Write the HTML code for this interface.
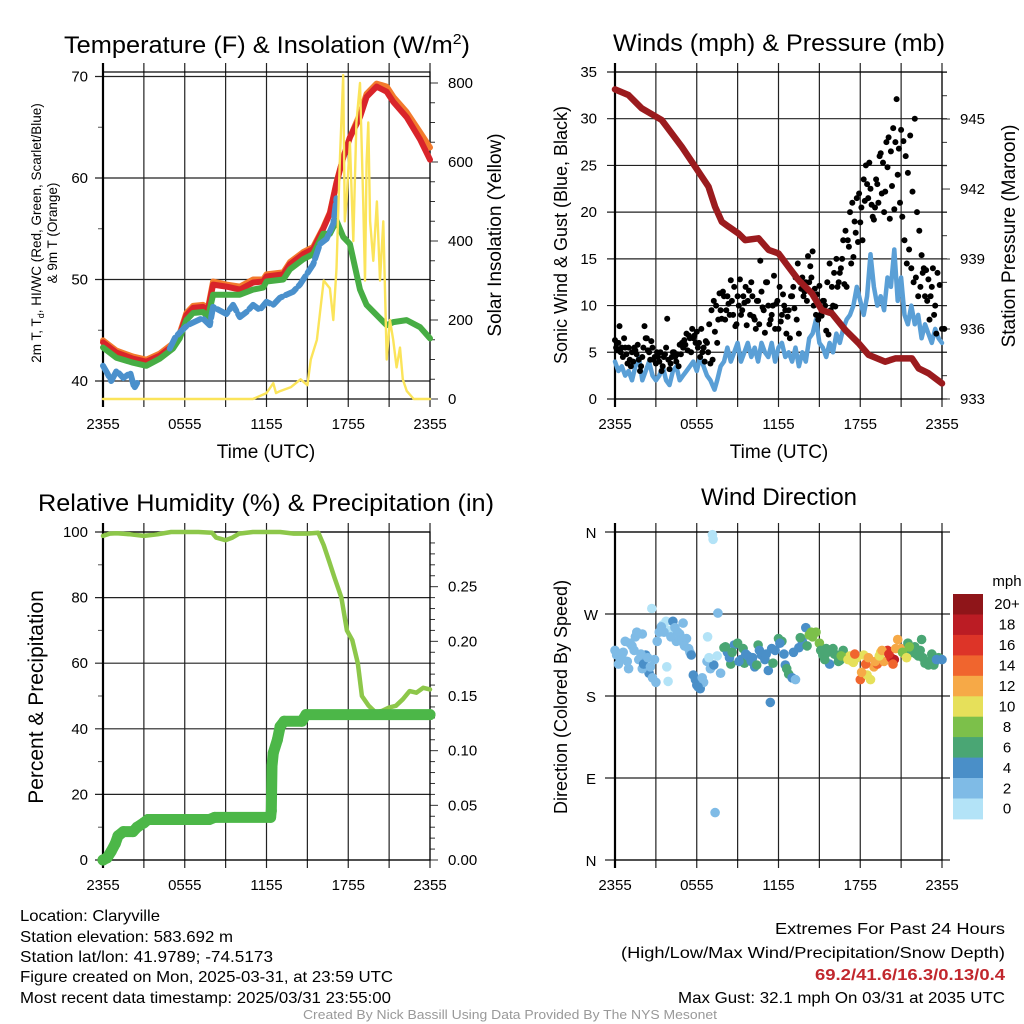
<!DOCTYPE html>
<html><head><meta charset="utf-8"><title>Claryville Meteogram</title>
<style>
html,body{margin:0;padding:0;background:#fff;}
svg{display:block;font-family:"Liberation Sans",Arial,sans-serif;}
</style></head>
<body>
<svg id="chart" width="1024" height="1024" viewBox="0 0 1024 1024" xmlns="http://www.w3.org/2000/svg">
<rect x="0" y="0" width="1024" height="1024" fill="#fff"/>
<!-- titles -->
<text x="267" y="53" font-size="24" text-anchor="middle" textLength="406" lengthAdjust="spacingAndGlyphs">Temperature (F) &amp; Insolation (W/m<tspan font-size="15" dy="-9">2</tspan><tspan dy="9">)</tspan></text>
<text x="779" y="51" font-size="24" text-anchor="middle" textLength="332" lengthAdjust="spacingAndGlyphs">Winds (mph) &amp; Pressure (mb)</text>
<text x="266" y="511" font-size="24" text-anchor="middle" textLength="456" lengthAdjust="spacingAndGlyphs">Relative Humidity (%) &amp; Precipitation (in)</text>
<text x="779" y="505" font-size="24" text-anchor="middle">Wind Direction</text>
<!-- axis titles -->
<text x="266" y="458" font-size="19" text-anchor="middle">Time (UTC)</text>
<text x="779" y="458" font-size="19" text-anchor="middle">Time (UTC)</text>
<text font-size="13.5" text-anchor="middle" transform="translate(41,233) rotate(-90)">2m T, T<tspan font-size="9" dy="3">d</tspan><tspan dy="-3">, HI/WC (Red, Green, Scarlet/Blue)</tspan></text>
<text font-size="13.5" text-anchor="middle" transform="translate(57,233) rotate(-90)">&amp; 9m T (Orange)</text>
<text font-size="19" text-anchor="middle" transform="translate(501,235) rotate(-90)">Solar Insolation (Yellow)</text>
<text font-size="18" text-anchor="middle" transform="translate(567,235) rotate(-90)">Sonic Wind &amp; Gust (Blue, Black)</text>
<text font-size="19" text-anchor="middle" transform="translate(1015,236) rotate(-90)">Station Pressure (Maroon)</text>
<text font-size="21" text-anchor="middle" transform="translate(43,697) rotate(-90)">Percent &amp; Precipitation</text>
<text font-size="18" text-anchor="middle" transform="translate(567,697) rotate(-90)">Direction (Colored By Speed)</text>
<!-- footer -->
<g font-size="16">
<text x="20" y="921" textLength="140" lengthAdjust="spacingAndGlyphs">Location: Claryville</text>
<text x="20" y="942" textLength="213" lengthAdjust="spacingAndGlyphs">Station elevation: 583.692 m</text>
<text x="20" y="962" textLength="253" lengthAdjust="spacingAndGlyphs">Station lat/lon: 41.9789; -74.5173</text>
<text x="20" y="982" textLength="373" lengthAdjust="spacingAndGlyphs">Figure created on Mon, 2025-03-31, at 23:59 UTC</text>
<text x="20" y="1003" textLength="371" lengthAdjust="spacingAndGlyphs">Most recent data timestamp: 2025/03/31 23:55:00</text>
</g>
<g font-size="16" text-anchor="end">
<text x="1005" y="934" textLength="230" lengthAdjust="spacingAndGlyphs">Extremes For Past 24 Hours</text>
<text x="1005" y="958" textLength="384" lengthAdjust="spacingAndGlyphs">(High/Low/Max Wind/Precipitation/Snow Depth)</text>
<text x="1005" y="980" fill="#c1272d" font-weight="bold" textLength="190" lengthAdjust="spacingAndGlyphs">69.2/41.6/16.3/0.13/0.4</text>
<text x="1005" y="1003" textLength="327" lengthAdjust="spacingAndGlyphs">Max Gust: 32.1 mph On 03/31 at 2035 UTC</text>
</g>
<text x="510" y="1019" font-size="12.5" fill="#999" text-anchor="middle" textLength="414" lengthAdjust="spacingAndGlyphs">Created By Nick Bassill Using Data Provided By The NYS Mesonet</text>
</svg>
<script>
// ---------- DATA ----------
const xTickLabels = ["2355","0555","1155","1755","2355"];
// Panel 1: temperature (F) & insolation
const tempHours = [0,0.98,2.2,3.18,4.16,5.14,5.63,6.12,6.61,7.35,7.71,8.08,9.06,10.04,11.02,11.76,12.0,13.23,13.72,14.69,15.43,16.16,16.65,17.14,17.63,18.12,18.86,19.35,20.08,20.82,21.31,22.28,23.27,24];
const tempRed = [43.8,42.8,42.2,41.9,42.5,43.5,44.5,46.5,47.2,47.3,47.0,49.5,49.3,49.0,49.7,49.8,50.3,50.5,51.5,52.5,53.0,55.0,56.5,59.5,62.0,64.0,66.0,68.0,69.0,68.5,67.5,66.0,63.8,61.8];
const temp9mOrange = [44.0,43.0,42.4,42.1,42.7,43.7,44.7,46.7,47.4,47.5,47.2,49.8,49.5,49.3,50.0,50.0,50.5,50.7,51.7,52.7,53.2,55.1,56.6,59.6,62.0,64.0,66.3,68.3,69.3,69.0,68.0,66.5,64.5,63.0];
const tempGreen = [43.3,42.3,41.8,41.5,42.2,43.2,44.2,46.0,46.7,46.8,46.3,48.5,48.5,48.5,49.0,49.2,49.8,50.0,51.0,52.0,52.5,54.5,54.5,55.8,54.2,53.5,49.0,47.5,46.5,45.5,45.8,46.0,45.3,44.2];
const dewHours = [0,0.3,0.6,1.0,1.5,2.0,2.3,2.5,null,4.9,5.3,5.8,6.2,7.3,7.84,8.08,9.06,9.55,10.04,10.53,11.02,11.51,12.0,12.49,12.98,13.47,13.96,14.45,14.94,15.43,15.92,16.41,16.9,17.14];
const dewBlue = [41.5,40.8,40.0,41.0,40.3,40.8,39.3,39.8,null,43.2,44.3,45.0,45.5,46.2,45.5,47.3,46.6,47.5,46.3,46.8,47.5,47.0,47.8,47.5,48.2,48.5,48.8,49.5,50.5,51.5,53.5,54.0,55.5,58.0];
const solarHours = [0,11.0,12.0,12.5,12.7,13.0,13.8,14.5,15.0,15.25,15.7,16.2,16.65,16.9,17.14,17.38,17.63,17.75,17.87,18.12,18.37,18.6,18.86,19.1,19.23,19.35,19.47,19.6,19.84,20.1,20.33,20.57,20.82,21.06,21.3,21.55,21.8,22.0,22.3,22.8,24];
const solarWm2 = [0,0,15,40,15,20,30,50,35,100,150,300,280,200,330,600,820,450,500,650,400,700,800,500,300,600,700,450,350,500,300,450,100,200,150,80,130,50,20,0,0];
// Panel 2: winds & pressure
const windHours = [0,0.25,0.5,0.75,1,1.25,1.5,1.75,2,2.25,2.5,2.75,3,3.25,3.5,3.75,4,4.25,4.5,4.75,5,5.25,5.5,5.75,6,6.25,6.5,6.75,7,7.15,7.3,7.5,7.75,8,8.25,8.5,8.75,9,9.25,9.5,9.75,10,10.25,10.5,10.75,11,11.25,11.5,11.75,12,12.25,12.5,12.75,13,13.25,13.5,13.75,14,14.25,14.5,14.75,15,15.25,15.5,15.75,16,16.25,16.5,16.75,17,17.25,17.5,17.75,18,18.25,18.5,18.75,19,19.25,19.5,19.75,20,20.25,20.5,20.75,21,21.25,21.5,21.75,22,22.25,22.5,22.75,23,23.25,23.5,23.75,24];
const windMph = [4,3,3.5,2.5,3,2,3.5,4.5,2,3,4,2.5,2,2.5,3.5,2,1.5,3,3.5,2,2.5,3,3.5,4,3,4.5,3.5,2.5,2,1.5,1,2,3.5,4,5.5,4,5,6,4,5,6,4.5,5.5,4,6,5,4.5,6,4,5.5,6,4.5,5,4,5.5,3.5,5,4,6.5,7,8.5,6,5.5,4.5,6,5,7,6,7.5,8.5,9,10,12,10.5,9,11,15.5,12,10,11,9.5,13,12,16,10.5,13,9,8,10,8,9,6.5,8,7,6,7.5,6.5,6];
const gustMph = [6.3,5.2,7.8,5.5,6.5,4.8,5.5,3.5,4.0,5.2,5.8,3.0,4.5,7.8,6.5,5.0,6.2,4.2,3.8,4.5,5.0,3.5,4.8,8.6,3.2,4.5,5.0,4.0,3.5,4.8,5.5,5.8,5.2,6.5,7.5,6.8,7.2,6.0,7.5,5.5,6.2,5.0,3.8,4.2,7.2,6.0,11.3,8.6,11.0,9.5,10.2,12.7,9.0,7.8,11.0,12.8,9.5,10.3,7.9,11.6,12.5,8.8,7.5,10.5,14.8,9.8,7.1,12.5,8.0,9.0,13.2,10.2,7.5,8.3,11.2,9.5,8.8,6.5,11.0,9.7,8.5,7.0,11.8,11.0,12.5,15.3,14.2,15.8,11.8,11.2,12.1,8.9,10.5,7.3,6.9,9.5,10.0,9.9,12.0,13.5,15.0,12.3,12.0,16.3,14.5,15.2,17.8,16.8,18.9,17.0,21.2,23.0,25.3,20.8,19.2,23.5,21.0,26.3,25.3,22.2,24.8,19.3,22.8,20.3,32.1,26.8,28.8,27.6,26.0,24.2,28.2,22.2,30.0,20.0,18.0,15.4,14.0,13.8,12.8,11.0,14.0,10.0,13.5,12.2,7.5,7.5];
const gust2Mph = [5.5,6.0,5.0,4.5,5.5,3.8,4.2,5.0,5.5,4.8,4.2,3.5,5.5,6.5,5.2,4.2,5.5,4.5,5.0,4.0,3.0,4.5,5.5,4.2,3.8,5.0,4.5,4.8,5.8,6.0,6.3,7.0,6.8,5.0,6.5,6.0,5.5,4.5,5.0,4.0,6.0,8.0,9.5,10.5,10.0,8.5,9.5,11.5,8.5,11.0,9.0,10.5,12.0,8.0,10.0,9.0,11.0,12.0,10.5,9.0,11.0,8.5,10.5,8.0,11.5,9.5,12.5,10.0,8.5,10.0,7.5,10.5,12.0,9.0,10.0,7.0,9.5,11.0,12.0,13.0,14.5,12.5,13.0,11.5,10.5,12.5,13.0,10.0,9.0,8.5,9.0,10.5,10.0,12.5,14.5,12.0,13.5,15.0,12.5,14.0,17.0,18.0,17.0,20.0,21.0,19.0,21.5,22.0,20.5,23.5,25.0,21.5,22.5,19.5,20.5,23.0,26.0,22.0,20.0,27.5,28.0,26.5,29.0,27.5,24.0,21.0,19.5,17.0,14.5,16.0,14.0,12.5,13.0,11.0,12.0,13.5,11.0,10.5,8.5,12.0,9.0,7.0];
const pressHours = [0,0.98,1.96,3.43,4.16,4.9,5.88,6.86,7.35,7.84,8.33,9.06,9.55,10.53,11.27,12.0,12.73,13.47,14.45,15.18,15.92,16.9,17.88,18.61,19.84,20.57,21.8,22.29,23.02,24];
const pressMb = [946.27,946.03,945.46,944.96,944.39,943.81,942.96,942.1,941.24,940.6,940.39,940.1,939.81,939.89,939.39,939.24,938.67,938.1,937.53,936.81,936.67,935.96,935.39,934.89,934.6,934.74,934.74,934.31,934.1,933.67];
// Panel 3: RH & precip
const rhHours = [0,0.5,1,2,3,4,5,6,7,8,8.3,9,9.5,10,11,12,13,14,15,15.8,16.2,16.6,17,17.5,17.9,18.3,18.7,19.0,19.5,20,20.5,21,21.5,22,22.5,23,23.5,24];
const rhPct = [98.8,99.5,99.6,99.3,98.8,99.3,100,100,100,99.8,98.3,97.5,98.3,99.5,100,100,100,99.5,99.5,99.8,96,91,86,80,70,67,60,50,47,45,45.5,46.5,47,49,51.5,51,52.5,52];
const precipHours = [0,0.3,0.6,0.9,1.1,1.5,2.2,2.5,3.0,3.3,7.8,8.2,12.3,12.35,12.4,12.5,12.8,13.0,13.3,14.6,14.9,24];
const precipIn = [0,0.002,0.008,0.015,0.022,0.026,0.026,0.03,0.034,0.037,0.037,0.039,0.039,0.045,0.086,0.098,0.11,0.122,0.127,0.127,0.133,0.133];
// Panel 4: wind direction
const dirHours = [0,0.25,0.5,0.75,1,1.25,1.5,1.75,2,2.25,2.5,2.75,3,3.25,3.5,3.75,4,4.25,4.5,4.75,5,5.25,5.5,5.75,6,6.25,6.5,6.75,7,7.25,7.5,7.75,8,8.25,8.5,8.75,9,9.25,9.5,9.75,10,10.25,10.5,10.75,11,11.25,11.5,11.75,12,12.25,12.5,12.75,13,13.25,13.5,13.75,14,14.25,14.5,14.75,15,15.25,15.5,15.75,16,16.25,16.5,16.75,17,17.25,17.5,17.75,18,18.25,18.5,18.75,19,19.25,19.5,19.75,20,20.25,20.5,20.75,21,21.25,21.5,21.75,22,22.25,22.5,22.75,23,23.25,23.5,23.75,24,7.15,7.2,7.35,7.55,6.8,6.9,2.7,3.8,3.9,11.4,2.0,
  0.12,0.4,0.6,0.9,1.1,1.4,1.6,1.9,2.1,2.4,2.6,2.9,3.1,3.4,3.6,4.1,4.4,4.6,4.9,5.1,5.4,5.6,5.9,6.1,6.4,8.1,8.4,8.6,9.1,9.4,9.6,10.1,10.4,10.6,11.1,11.6,12.1,12.4,12.6,13.1,13.6,14.1,14.4,15.1,15.4,15.6,16.1,16.4,16.6,17.1,17.4,17.6,18.1,18.4,18.6,19.1,19.4,19.6,20.1,20.4,20.6,21.1,21.4,21.6,22.1,22.4,22.6,23.1,23.4,23.6];
const dirDeg = [230,215,222,240,210,235,245,220,248,225,205,200,195,250,258,262,252,262,240,248,260,243,228,203,192,188,195,218,210,214,224,205,233,228,215,236,238,220,216,224,218,212,236,225,220,208,232,230,243,240,214,204,200,198,233,240,255,247,245,250,238,225,232,215,232,225,219,230,222,224,217,222,198,225,203,198,212,215,228,218,230,222,220,242,232,226,238,228,234,224,242,216,214,226,218,222,220,357,352,52,271,245,222,276,212,196,173,210,
  225,220,228,218,238,230,250,226,215,222,212,220,240,256,250,245,255,250,240,235,232,225,198,190,200,234,222,228,218,232,226,222,214,230,226,216,238,226,210,228,244,235,250,230,220,228,226,218,224,220,218,226,206,215,222,218,224,230,226,215,232,228,222,234,226,230,222,218,214,220];
const dirSpeed = [2,3,3,2,2,2,3,2,3,4,4,2,2,2,1.5,1.5,1,4,2,2,2,2,3,4,4,4,3,2,2,4,1.5,2,6,4,6,5,6,5,6,4,4,5,6,4,4,5,5,4,7,7,5,6,4,3,4,4,4,8,8,8,8,6,6,5,6,6,7,7,8,10,10,10,14,10,10,11,13,14,10,12,17,16,18,12,13,12,7,7,7,6,7,6,6,6,5,6,4,0,0.5,2,3.5,1,0.5,0.5,0.5,0.5,4,3,
  2,3,2,2,3,2,3,2,4,2,3,2,2,3,2,2,3,2,2,3,2,4,4,5,3,6,5,6,4,6,5,4,6,5,4,6,5,4,6,5,7,6,8,7,6,7,6,7,9,10,11,14,12,15,13,13,11,12,17,15,13,9,10,8,7,6,7,6,6,5];
const speedBinLabels = ["0","2","4","6","8","10","12","14","16","18","20+"];
const speedBinColors = ["#b3e3f7","#7fbbe6","#4a8fc8","#4aa674","#7cc04a","#e6e05a","#f6a947","#f0652e","#dd3428","#bb1c24","#8f1519"];

// ---------- HELPERS ----------
const svg = document.getElementById('chart');
const NS = 'http://www.w3.org/2000/svg';
function mk(tag, attrs, name, parent) {
  const el = document.createElementNS(NS, tag);
  for (const k in attrs) el.setAttribute(k, attrs[k]);
  
  
  (parent || svg).appendChild(el);
  return el;
}
function ln(x1,y1,x2,y2,name,w,c,g){ return mk('line',{x1:x1,y1:y1,x2:x2,y2:y2,stroke:c||'#000','stroke-width':w||1},name,g); }
function tx(x,y,s,name,anchor,size,g){ const t = mk('text',{x:x,y:y,'font-size':size||14,'text-anchor':anchor||'middle'},name,g); t.textContent = s; return t; }
function ok(v){ return typeof v === 'number' && isFinite(v); }
function poly(xs, ys, name, color, w, g, extra){
  let segs=[], cur=[];
  const n = Math.min(xs.length, ys.length);
  for(let i=0;i<n;i++){
    if(!ok(xs[i])||!ok(ys[i])){ if(cur.length) segs.push(cur); cur=[]; continue; }
    cur.push(xs[i].toFixed(1)+','+ys[i].toFixed(1));
  }
  if(cur.length) segs.push(cur);
  segs.forEach(function(s){
    const a = {points:s.join(' '),fill:'none',stroke:color,'stroke-width':w,'stroke-linejoin':'round','stroke-linecap':'round'};
    if(extra) for(const k in extra) a[k]=extra[k];
    mk('polyline',a,name,g);
  });
}

function makePanel(id, x0, x1, yt, yb){
  const g = mk('g',{},id);
  const xs = function(h){ return x0 + h/24*(x1-x0); };
  for(let h=0; h<=24; h+=3){
    ln(xs(h), yt-9, xs(h), yb+8, id+'-v-gridline', 1.2, '#222', g);
  }
  for(let i=0;i<xTickLabels.length;i++){
    tx(xs(i*6), yb+30, xTickLabels[i], id+'-x-tick-label','middle',15,g);
  }
  return {g:g, xs:xs};
}
function frame(P, x0,x1,yt,yb,id){
  mk('rect',{x:x0,y:yt,width:x1-x0,height:yb-yt,fill:'none',stroke:'#000','stroke-width':1.2},id+'-frame',P.g);
  ln(x0,yt-9,x0,yb+8,id+'-left-axis-line',2.2,'#000',P.g);
}

// ---------- PANEL 1 ----------
(function(){
  const x0=103,x1=430,yt=72,yb=399;
  const P = makePanel('temperature-panel',x0,x1,yt,yb);
  const yL = function(v){ return 381 - (v-40)*10.15; };
  const yR = function(v){ return 399 - v*0.395; };
  [40,50,60,70].forEach(function(v){
    ln(x0-8,yL(v),x1,yL(v),'temperature-h-gridline',1.2,'#222',P.g);
    tx(x0-15,yL(v)+5,String(v),'temperature-y-tick-label','end',15,P.g);
  });
  [45,55,65].forEach(function(v){ ln(x0-5,yL(v),x0,yL(v),'temperature-minor-tick',1,'#555',P.g); });
  for(let v=0; v<=800; v+=50){
    const major = v%200===0;
    ln(x1,yR(v),x1+(major?8:5),yR(v),'solar-y-tick',1,'#333',P.g);
    if(major) tx(x1+18,yR(v)+5,String(v),'solar-y-tick-label','start',15,P.g);
  }
  frame(P,x0,x1,yt,yb,'temperature-panel');
  poly(tempHours.map(P.xs), temp9mOrange.map(yL),'temperature-9m-line','#f37b2d',6,P.g);
  poly(tempHours.map(P.xs), tempRed.map(yL),'temperature-2m-line','#d9242a',6,P.g);
  poly(tempHours.map(P.xs), tempGreen.map(yL),'heat-index-line','#47ad44',6,P.g);
  poly(dewHours.map(function(h){return h===null?null:P.xs(h);}), dewBlue.map(function(v){return v===null?null:yL(v);}),'dewpoint-line','#4a90cc',6,P.g,{'stroke-dasharray':'12 4'});
  poly(solarHours.map(P.xs), solarWm2.map(yR),'solar-insolation-line','#fbe45a',2.4,P.g);
})();

// ---------- PANEL 2 ----------
(function(){
  const x0=615,x1=942,yt=72,yb=399;
  const P = makePanel('winds-panel',x0,x1,yt,yb);
  const yL = function(v){ return 399 - v*9.343; };
  const yR = function(v){ return 399 - (v-933)*23.33; };
  for(let v=0; v<=35; v+=5){
    ln(x0-8,yL(v),x1+5,yL(v),'winds-h-gridline',1.2,'#222',P.g);
    tx(x0-18,yL(v)+5,String(v),'winds-y-tick-label','end',15,P.g);
  }
  for(let v=933; v<=947; v+=1){
    const major = (v-933)%3===0;
    if(yR(v)<yt) continue;
    ln(x1,yR(v),x1+(major?8:5),yR(v),'pressure-y-tick',1,'#333',P.g);
    if(major) tx(x1+18,yR(v)+5,String(v),'pressure-y-tick-label','start',15,P.g);
  }
  frame(P,x0,x1,yt,yb,'winds-panel');
  poly(windHours.map(P.xs), windMph.map(yL),'sonic-wind-line','#5a9fd6',4.5,P.g);
  for(let i=0;i<gustMph.length;i++){
    mk('circle',{cx:P.xs(i/6).toFixed(1),cy:yL(gustMph[i]).toFixed(1),r:3,fill:'#000'},'gust-point',P.g);
  }
  for(let i=0;i<gust2Mph.length;i++){
    mk('circle',{cx:P.xs(i/6+1/12).toFixed(1),cy:yL(gust2Mph[i]).toFixed(1),r:3,fill:'#000'},'gust-point',P.g);
  }
  poly(pressHours.map(P.xs), pressMb.map(yR),'station-pressure-line','#9b1b1e',6.5,P.g);
})();

// ---------- PANEL 3 ----------
(function(){
  const x0=103,x1=430,yt=532,yb=860;
  const P = makePanel('humidity-panel',x0,x1,yt,yb);
  const yL = function(v){ return 860 - v*3.28; };
  const yR = function(v){ return 860 - v*1093.3; };
  for(let v=0; v<=100; v+=20){
    ln(x0-8,yL(v),x1,yL(v),'humidity-h-gridline',1.2,'#222',P.g);
    tx(x0-15,yL(v)+5,String(v),'humidity-y-tick-label','end',15,P.g);
  }
  for(let v=10; v<100; v+=20){ ln(x0-5,yL(v),x0,yL(v),'humidity-minor-tick',1,'#555',P.g); }
  for(let k=0; k<=29; k++){
    const v = k/100;
    const major = k%5===0;
    ln(x1,yR(v),x1+(major?8:5),yR(v),'precip-y-tick',1,'#333',P.g);
    if(major) tx(x1+18,yR(v)+5,v.toFixed(2),'precip-y-tick-label','start',15,P.g);
  }
  frame(P,x0,x1,yt,yb,'humidity-panel');
  poly(rhHours.map(P.xs), rhPct.map(yL),'relative-humidity-line','#8dc74a',4.5,P.g);
  poly(precipHours.map(P.xs), precipIn.map(yR),'precipitation-line','#4cb748',11,P.g);
  for(let i=0;i<Math.min(precipHours.length,precipIn.length);i++){
    mk('circle',{cx:P.xs(precipHours[i]).toFixed(1),cy:yR(precipIn[i]).toFixed(1),r:5.5,fill:'#4cb748'},'precipitation-point',P.g);
  }
})();

// ---------- PANEL 4 ----------
(function(){
  const x0=615,x1=942,yt=532,yb=860;
  const P = makePanel('wind-direction-panel',x0,x1,yt,yb);
  const yD = function(d){ return 860 - d*0.9111; };
  const dirLabels = ["N","E","S","W","N"];
  for(let i=0;i<5;i++){
    ln(x0-10,yD(i*90),x1+8,yD(i*90),'direction-h-gridline',1.2,'#222',P.g);
    tx(x0-24,yD(i*90)+6,dirLabels[i],'direction-y-tick-label','middle',15,P.g);
  }
  frame(P,x0,x1,yt,yb,'wind-direction-panel');
  const n = Math.min(dirHours.length, dirDeg.length, dirSpeed.length);
  for(let i=0;i<n;i++){
    const bin = Math.max(0, Math.min(10, Math.floor(dirSpeed[i]/2)));
    mk('circle',{cx:P.xs(dirHours[i]).toFixed(1),cy:yD(dirDeg[i]).toFixed(1),r:4.8,fill:speedBinColors[bin]},'wind-direction-point',P.g);
  }
  const cb = mk('g',{},'speed-colorbar');
  tx(1007,586,'mph','colorbar-title','middle',15,cb);
  const top=594, h=20.45;
  for(let i=0;i<speedBinColors.length;i++){
    const k = speedBinColors.length-1-i;
    mk('rect',{x:953,y:(top+i*h).toFixed(1),width:30,height:(h+0.5).toFixed(1),fill:speedBinColors[k]},'colorbar-swatch',cb);
    tx(1007,top+i*h+h/2+5,speedBinLabels[k],'colorbar-label','middle',15,cb);
  }
})();
</script>
</body></html>
